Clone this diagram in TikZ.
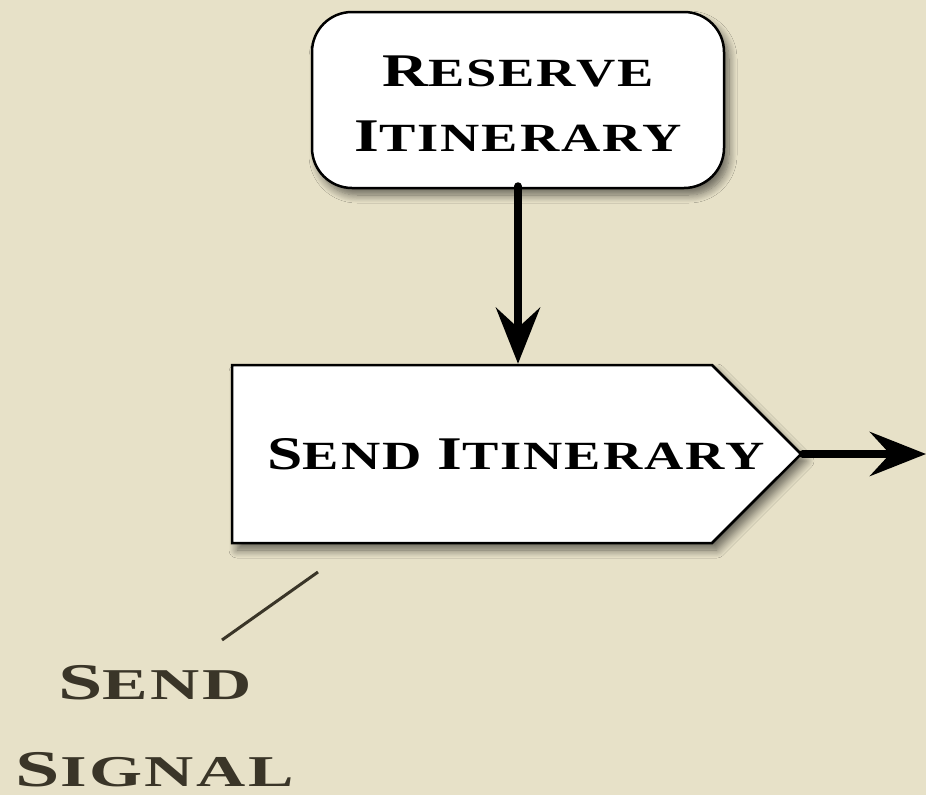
\documentclass[tikz,border=0pt]{standalone}
\usepackage{fontspec}
\newfontfamily\platefont[FakeStretch=1.36,LetterSpace=5]{Liberation Serif Bold}
\newfontfamily\notefont[FakeStretch=1.55,LetterSpace=6]{Liberation Serif Bold}
\usetikzlibrary{shapes.symbols,shadows.blur,arrows.meta}
\definecolor{paper}{RGB}{231,225,200}
\definecolor{ink}{RGB}{58,53,40}
\newcommand{\capletter}[1]{\scalebox{1.17}{#1}}
\tikzset{
	step box/.style={draw=black, line width=2.5pt, fill=white,
		blur shadow={shadow xshift=5pt, shadow yshift=-7pt, shadow blur radius=8pt, shadow blur steps=10, shadow opacity=55}},
	step text/.style={font=\platefont\fontsize{40}{65}\selectfont, align=center},
	flow/.style={line width=8pt, line cap=round, -{Stealth[length=56pt,width=44pt,inset=20pt]}}
}
\begin{document}
\begin{tikzpicture}[x=1pt, y=-1pt]
	\fill[paper] (0,0) rectangle (926,795);
	\useasboundingbox (0,0) rectangle (926,795);

	\node[step box, rounded corners=40pt, minimum width=412pt, minimum height=176pt,
		label={[step text, yshift=-4pt]center:\capletter{R}ESERVE\\\capletter{I}TINERARY}]
		(reserve) at (518,100) {};
	\node[step box, signal, signal to=east, signal pointer angle=90, minimum width=569pt, minimum height=178pt,
		label={[step text, xshift=44pt]center:\capletter{S}END \capletter{I}TINERARY}]
		(send) at (472,454) {};

	\coordinate (out) at (926,454);
	\draw[flow] (reserve.south) ++(0,-3) -- (send.north -| reserve.south);
	\draw[flow] (send.east) -- (out);

	% callout
	\node[text=ink, align=center, inner sep=0pt, font=\notefont\fontsize{44}{87}\selectfont] (signal) at (155,726)
		{\capletter{S}END\\\capletter{S}IGNAL};
	\coordinate (tip) at (318,572);
	\coordinate (foot) at (222,640);
	\draw[ink, line width=3pt] (tip) -- (foot);
\end{tikzpicture}
\end{document}
